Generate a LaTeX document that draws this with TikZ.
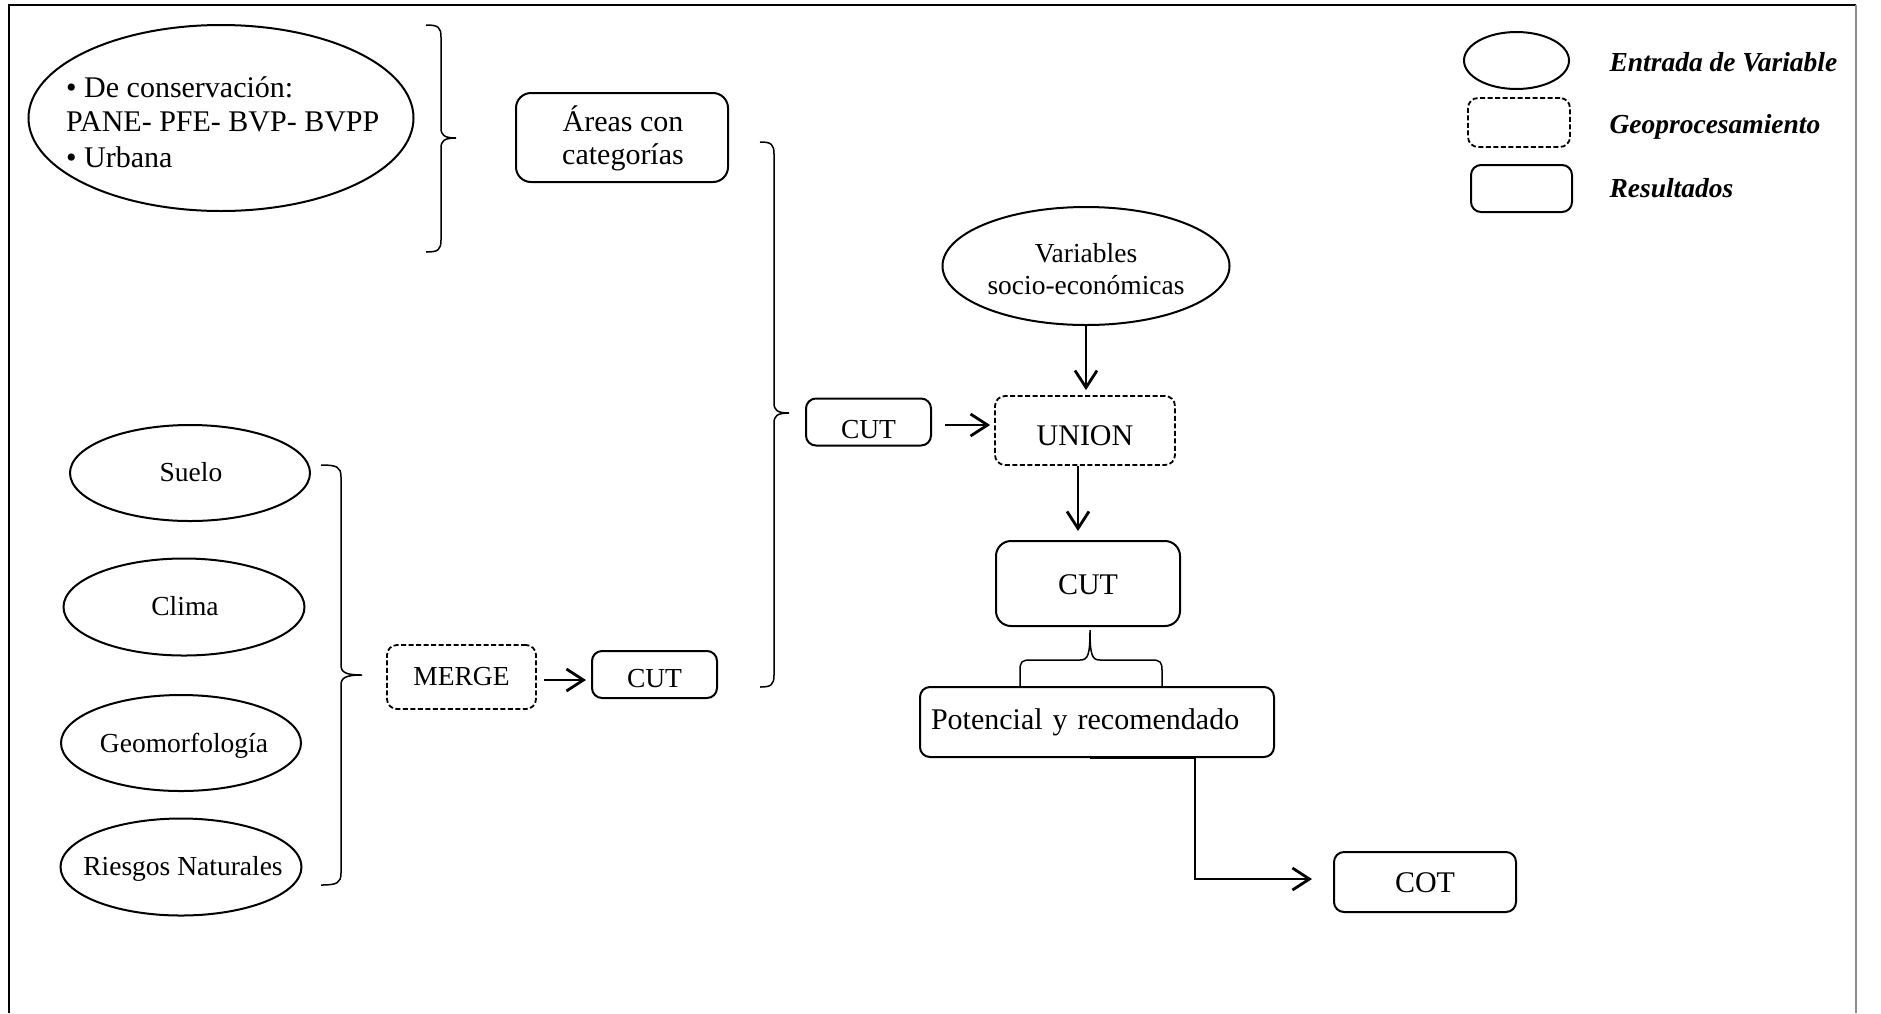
\documentclass[tikz,border=0pt]{standalone}
\usepackage{fontspec}
\setmainfont{Liberation Serif}
\usetikzlibrary{shapes.geometric,arrows.meta}
\begin{document}
\begin{tikzpicture}[x=1pt,y=-1pt,
  big/.style={font=\fontsize{30}{34}\selectfont},
  small/.style={font=\fontsize{27.5}{32}\selectfont},
  ell/.style={draw,ellipse,line width=2pt,inner sep=0pt},
  resbox/.style={draw,rounded corners=10pt,line width=2pt,inner sep=0pt},
  geobox/.style={draw,rounded corners=10pt,line width=1.8pt,inner sep=0pt,dash pattern=on 5pt off 2.5pt},
  txt/.style={inner sep=0pt,anchor=base},
  arr/.style={line width=2.8pt,-{Straight Barb[length=17pt,width=22pt,line width=2.8pt]}},
  brc/.style={line width=1.5pt},
  legtext/.style={anchor=west,font=\fontsize{27.5}{32}\selectfont\bfseries\itshape}
]
\useasboundingbox (0,0) rectangle (1881,1013);
\fill[white] (0,0) rectangle (1881,1013);
% frame
\draw[line width=2pt] (9,1013) -- (9,5) -- (1856,5);
\draw[line width=1.5pt,black!45] (1856,5) -- (1856,1013);

% top input
\node[ell,minimum width=385pt,minimum height=186pt] (cons) at (221,118) {};
\node[txt,big,anchor=base west] (cons1) at (66,97) {• De conservación:};
\node[txt,big,anchor=base west] (cons2) at (66,131) {PANE- PFE- BVP- BVPP};
\node[txt,big,anchor=base west] (cons3) at (66,167) {• Urbana};

\node[resbox,rounded corners=15pt,minimum width=212pt,minimum height=89pt] (areas) at (622,137.5) {};
\node[txt,big] (areas1) at (623,131) {Áreas con};
\node[txt,big] (areas2) at (623,164) {categorías};

% left inputs
\node[ell,minimum width=240pt,minimum height=96pt] (suelo) at (190,473) {};
\node[txt,small] (suelot) at (191,481) {Suelo};
\node[ell,minimum width=241pt,minimum height=97pt] (clima) at (184,607) {};
\node[txt,small] (climat) at (185,615) {Clima};
\node[ell,minimum width=240pt,minimum height=96pt] (geo) at (181,743) {};
\node[txt,small] (geot) at (184,752) {Geomorfología};
\node[ell,minimum width=241pt,minimum height=97pt] (ries) at (181,867) {};
\node[txt,small] (riest) at (183,875) {Riesgos Naturales};

\node[geobox,small,minimum width=149pt,minimum height=64pt] (merge) at (461.5,677) {MERGE};
\node[resbox,small,minimum width=125pt,minimum height=47pt,text height=25pt,text depth=0pt] (cutb) at (654.5,674.5) {CUT};

\node[resbox,small,minimum width=125pt,minimum height=47pt,text height=33pt,text depth=0pt] (cut1) at (868.5,422) {CUT};
\node[geobox,big,minimum width=180pt,minimum height=69pt,text height=29pt,text depth=0pt] (union) at (1085,430.5) {UNION};
\node[ell,minimum width=287pt,minimum height=118pt] (vars) at (1086,266) {};
\node[txt,small] (vars1) at (1086,262) {Variables};
\node[txt,small] (vars2) at (1086,294) {socio-económicas};
\node[resbox,big,rounded corners=15pt,minimum width=184pt,minimum height=85pt,text height=21pt,text depth=0pt] (cut2) at (1088,583.5) {CUT};
\node[resbox,big,minimum width=354pt,minimum height=70pt,text width=332pt,align=left] (pot) at (1097,722)
  {Potencial y recomendado};
\node[resbox,big,minimum width=182pt,minimum height=60pt,text height=21pt,text depth=0pt] (cot) at (1425,882) {COT};

% legend
\node[ell,minimum width=105pt,minimum height=57pt] (lell) at (1516.5,60.5) {};
\node[geobox,minimum width=102pt,minimum height=49pt] (lgeo) at (1519,122.5) {};
\node[resbox,minimum width=101pt,minimum height=47pt] (lres) at (1521.5,188.5) {};
\node[legtext] (tell) at (1606,62) {Entrada de Variable};
\node[legtext] (tgeo) at (1606,127) {Geoprocesamiento};
\node[legtext] (tres) at (1606,188) {Resultados};

% braces
\draw[brc] (426,25) .. controls (438,25) and (441,27) .. (441,37) -- (441,128)
  .. controls (441,135) and (444,138) .. (456,138) .. controls (444,138) and (441,141) .. (441,148)
  -- (441,240) .. controls (441,250) and (438,252) .. (426,252);
\draw[brc] (321,465) .. controls (337,465) and (341,467) .. (341,477) -- (341,665)
  .. controls (341,672) and (345,675) .. (362,675) .. controls (345,675) and (341,678) .. (341,685)
  -- (341,873) .. controls (341,883) and (337,885) .. (321,885);
\draw[brc] (760,142) .. controls (771,142) and (774,144) .. (774,154) -- (774,403)
  .. controls (774,410) and (777,413) .. (789,413) .. controls (777,413) and (774,416) .. (774,423)
  -- (774,675) .. controls (774,685) and (771,687) .. (760,687);
\draw[brc] (1020,686) -- (1020,670) .. controls (1020,662) and (1022,660) .. (1030,660) -- (1080,660)
  .. controls (1088,660) and (1090,655) .. (1090,630) .. controls (1090,655) and (1092,660) .. (1100,660)
  -- (1152,660) .. controls (1160,660) and (1162,662) .. (1162,670) -- (1162,686);

% arrows
\coordinate (a1) at ([xshift=7pt,yshift=-3pt]merge.east);
\draw[arr,shorten >=5pt] (a1) -- (a1 -| cutb.west);
\coordinate (a2) at ([xshift=13pt,yshift=-3pt]cut1.east);
\draw[arr,shorten >=4pt] (a2) -- (a2 -| union.west);
\draw[arr,shorten >=5pt] (vars.south) -- (vars.south |- union.north);
\coordinate (a3) at ([xshift=-7pt]union.south);
\draw[arr,shorten >=9pt] (a3) -- (a3 |- cut2.north);
\coordinate (p1) at ([xshift=-7pt]pot.south);
\coordinate (p2) at ([xshift=105pt]p1);
\draw[arr,shorten >=21pt] (p1) -- (p2) |- ([yshift=3pt]cot.west);
\end{tikzpicture}
\end{document}
